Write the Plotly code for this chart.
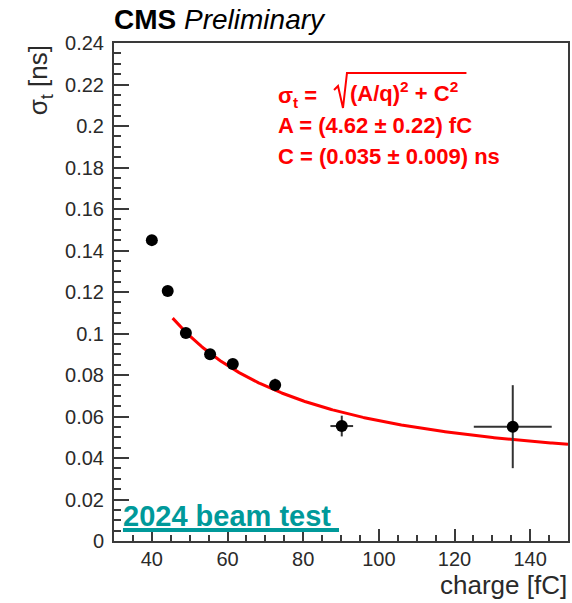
import numpy as np
import plotly.graph_objects as go

# Measured time resolution vs collected charge
charge = [40.0, 44.2, 49.0, 55.4, 61.4, 72.6, 90.2, 135.4]
charge_err = [0.4, 0.4, 0.5, 0.6, 0.7, 1.5, 3.0, 10.3]
sigma_t = [0.145, 0.1205, 0.1002, 0.0900, 0.0853, 0.0752, 0.0554, 0.0551]
sigma_t_err = [0.001, 0.001, 0.001, 0.001, 0.001, 0.003, 0.005, 0.020]

# Fit result: sigma_t = sqrt((A/q)^2 + C^2)
fit_A = 4.62
fit_C = 0.035
fit_range = [45.5, 150.0]

x_ticks = [40, 60, 80, 100, 120, 140]
y_ticks = [0, 0.02, 0.04, 0.06, 0.08, 0.1, 0.12, 0.14, 0.16, 0.18, 0.2, 0.22, 0.24]

FONT = "Liberation Sans, Arial, Helvetica, sans-serif"
AXIS_COLOR = "#3a3a3a"
RED = "#ff0000"
TEAL = "#00999a"

W, H = 572, 603
L, R, T, B = 114, 2, 43, 62
PW, PH = W - L - R, H - T - B


def px(xp):
    return (xp - L) / PW


def py(yp):
    return (H - B - yp) / PH


q = np.linspace(fit_range[0], fit_range[1], 300)
fit_curve = np.sqrt((fit_A / q) ** 2 + fit_C ** 2)

fig = go.Figure()
fig.add_trace(go.Scatter(
    x=q, y=fit_curve, mode="lines",
    line=dict(color=RED, width=3), hoverinfo="skip", showlegend=False,
))
fig.add_trace(go.Scatter(
    x=charge, y=sigma_t, mode="markers",
    marker=dict(color="black", size=12),
    error_x=dict(type="data", array=charge_err, color="#333333", thickness=2, width=0),
    error_y=dict(type="data", array=sigma_t_err, color="#333333", thickness=2, width=0),
    showlegend=False,
))

axis_common = dict(
    showline=True, linecolor=AXIS_COLOR, linewidth=2, mirror=True,
    showgrid=False, zeroline=False,
    ticks="inside", tickcolor=AXIS_COLOR, tickwidth=1.5,
    tickfont=dict(family=FONT, size=20, color="#2a2a2a"),
)

fig.update_layout(
    width=W, height=H,
    margin=dict(l=L, r=R, t=T, b=B),
    paper_bgcolor="white", plot_bgcolor="white",
    font=dict(family=FONT),
    xaxis=dict(
        range=[30, 150], tickvals=x_ticks, ticklen=12,
        minor=dict(ticks="inside", dtick=5, ticklen=6, tickcolor=AXIS_COLOR, tickwidth=1.5),
        ticklabelstandoff=-1,
        **axis_common,
    ),
    yaxis=dict(
        range=[0, 0.24], tickvals=y_ticks, ticklen=15,
        minor=dict(ticks="inside", dtick=0.005, ticklen=7, tickcolor=AXIS_COLOR, tickwidth=1.5),
        ticklabelstandoff=4,
        **axis_common,
    ),
)

annotations = [
    # header
    dict(x=px(112), y=py(37), xanchor="left", yanchor="bottom",
         text="<b>CMS</b> <i>Preliminary</i>",
         font=dict(family=FONT, size=28, color="black")),
    # axis titles
    dict(x=px(571), y=py(585), xanchor="right", yanchor="middle",
         text="charge [fC]", font=dict(family=FONT, size=26, color="#2a2a2a")),
    dict(x=px(39), y=py(43), xanchor="center", yanchor="top", textangle=-90,
         text="σ<sub>t</sub> [ns]", font=dict(family=FONT, size=26, color="#2a2a2a")),
    # fit formula
    dict(x=px(277), y=py(97), xanchor="left", yanchor="middle",
         text="<b>σ<sub>t</sub> =</b>", font=dict(family=FONT, size=22, color=RED)),
    dict(x=px(349), y=py(92), xanchor="left", yanchor="middle",
         text="<b>(A/q)<sup>2</sup> + C<sup>2</sup></b>", font=dict(family=FONT, size=22, color=RED)),
    dict(x=px(277), y=py(126), xanchor="left", yanchor="middle",
         text="<b>A = (4.62 ± 0.22) fC</b>", font=dict(family=FONT, size=22, color=RED)),
    dict(x=px(277), y=py(156), xanchor="left", yanchor="middle",
         text="<b>C = (0.035 ± 0.009) ns</b>", font=dict(family=FONT, size=22, color=RED)),
    # beam test label
    dict(x=px(121), y=py(516), xanchor="left", yanchor="middle",
         text="<b>2024 beam test</b>", font=dict(family=FONT, size=29, color=TEAL)),
]
fig.update_layout(annotations=[dict(xref="paper", yref="paper", showarrow=False, **a) for a in annotations])

# radical sign of the fit formula and the underline of the beam-test label
radical = (f"M {px(335)},{py(90)} L {px(339)},{py(86)} L {px(344)},{py(108)} "
           f"L {px(348)},{py(73)} L {px(468)},{py(73)}")
fig.add_shape(type="path", xref="paper", yref="paper", path=radical,
              line=dict(color=RED, width=2))
fig.add_shape(type="line", xref="paper", yref="paper",
              x0=px(123), x1=px(340), y0=py(530), y1=py(530),
              line=dict(color=TEAL, width=4))

fig.write_html("out.html")
